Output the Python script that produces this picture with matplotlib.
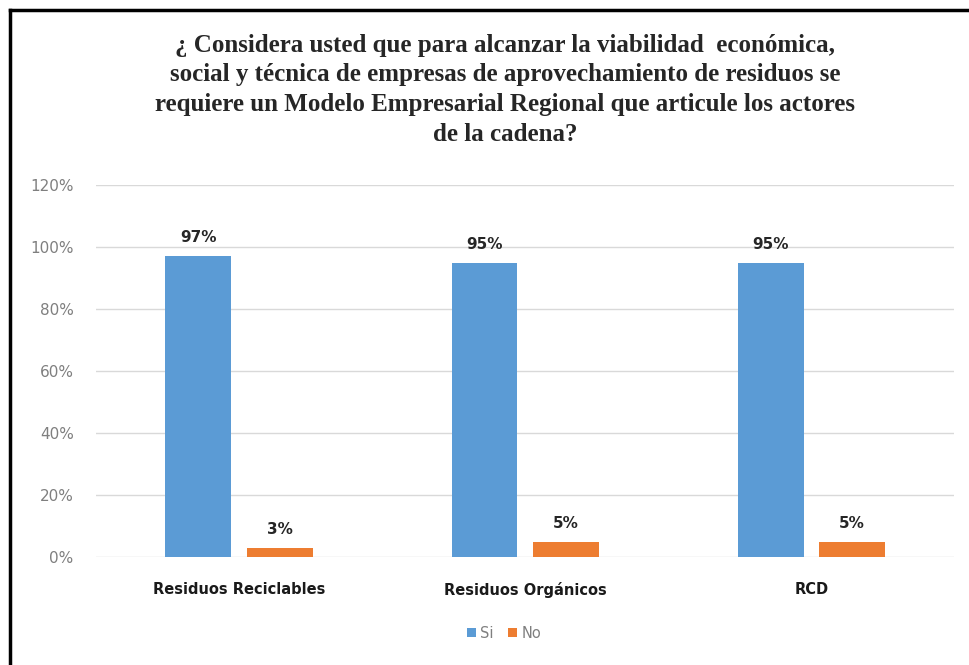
import matplotlib.pyplot as plt
import numpy as np
from matplotlib.lines import Line2D

categories = ["Residuos Reciclables", "Residuos Orgánicos", "RCD"]
si = [97, 95, 95]
no = [3, 5, 5]
yticks = [0, 20, 40, 60, 80, 100, 120]

title = ("¿ Considera usted que para alcanzar la viabilidad  económica,\n"
         "social y técnica de empresas de aprovechamiento de residuos se\n"
         "requiere un Modelo Empresarial Regional que articule los actores\n"
         "de la cadena?")

fig = plt.figure(figsize=(9.69, 6.65), dpi=100)
ax = fig.add_axes([0.099, 0.1624, 0.886, 0.5594])

x = np.arange(len(categories))
w = 0.23
b1 = ax.bar(x - 0.142, si, w, color="#5B9BD5", label="Si", zorder=3)
b2 = ax.bar(x + 0.142, no, w, color="#ED7D31", label="No", zorder=3)

for bars in (b1, b2):
    for r in bars:
        ax.text(r.get_x() + r.get_width() / 2, r.get_height() + 3.5,
                f"{r.get_height():.0f}%", ha="center", va="bottom",
                fontsize=11, fontweight="bold", color="#262626")

ax.set_xlim(-0.5, 2.5)
ax.set_ylim(0, 120)
ax.set_yticks(yticks)
ax.set_yticklabels([f"{v}%" for v in yticks], color="#7F7F7F", fontsize=11)
ax.set_xticks(x)
ax.set_xticklabels(categories, fontsize=10.5, fontweight="bold", color="#1a1a1a")
ax.tick_params(length=0)
ax.tick_params(axis="y", pad=16)
ax.tick_params(axis="x", pad=18)
ax.grid(axis="y", color="#D9D9D9", linewidth=1, zorder=0)
for s in ax.spines.values():
    s.set_visible(False)

fig.text(0.521, 0.865, title, ha="center", va="center", family="Liberation Serif",
         fontsize=18, fontweight="bold", color="#262626", linespacing=1.38)

fig.legend(loc="center", bbox_to_anchor=(0.52, 0.048), ncol=2, frameon=False,
           fontsize=10.5, handlelength=0.6, handleheight=0.6, handletextpad=0.3,
           columnspacing=1.0, labelcolor="#7F7F7F")

# border on left and top
fig.add_artist(Line2D([0.0108, 0.0108], [0, 0.985], color="black", lw=2.5,
                      transform=fig.transFigure))
fig.add_artist(Line2D([0.0108, 1.0], [0.985, 0.985], color="black", lw=2.5,
                      transform=fig.transFigure))

plt.savefig("out.png", dpi=100)
